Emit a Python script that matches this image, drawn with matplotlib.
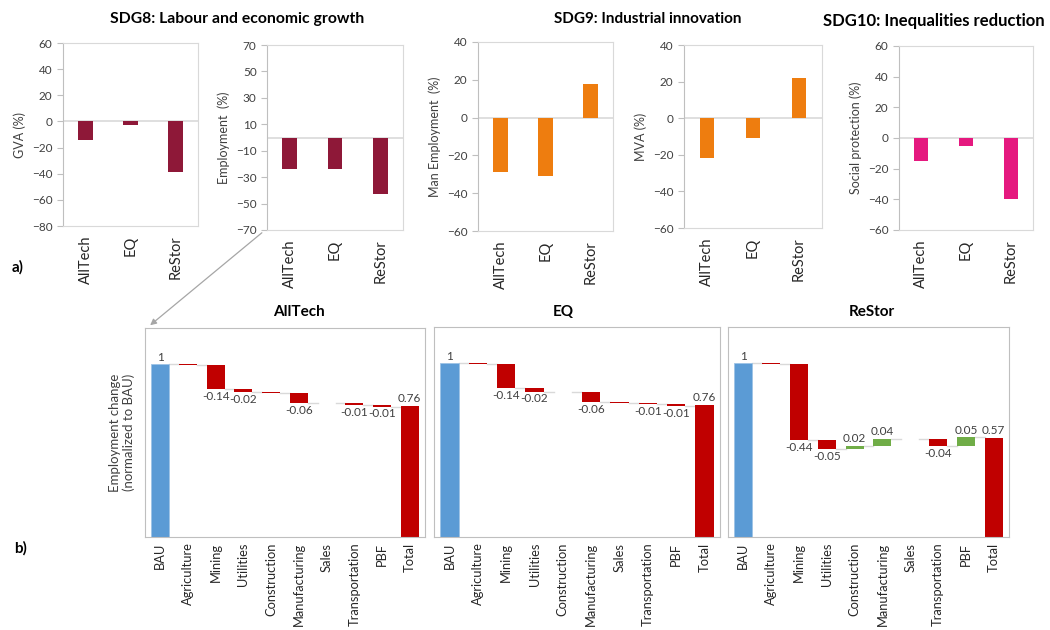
import numpy as np
import matplotlib.pyplot as plt
from matplotlib.patches import FancyArrowPatch

plt.rcParams['font.family'] = ['Lato', 'DejaVu Sans']

# SDG indicators per scenario (% change vs BAU)
scenarios = ['AllTech', 'EQ', 'ReStor']
gva = [-14, -2.5, -39]
employment = [-24, -24, -43]
man_employment = [-29, -31, 18]
mva = [-22, -11, 22]
social_protection = [-15, -5, -40]

# Employment waterfall by sector (normalized to BAU)
sectors = ['BAU', 'Agriculture', 'Mining', 'Utilities', 'Construction',
           'Manufacturing', 'Sales', 'Transportation', 'PBF', 'Total']
bau_level = 1.0
alltech_changes = [-0.002, -0.14, -0.02, -0.003, -0.06, -0.001, -0.01, -0.01]
eq_changes = [-0.002, -0.14, -0.02, -0.003, -0.06, -0.001, -0.01, -0.01]
restor_changes = [-0.003, -0.44, -0.05, 0.02, 0.04, -0.003, -0.04, 0.05]
alltech_total = 0.76
eq_total = 0.76
restor_total = 0.57

MAROON = '#8E1838'
ORANGE = '#EE7D0F'
PINK = '#E5197F'
BLUE = '#5B9BD5'
RED = '#C00000'
GREEN = '#70AD47'
FRAME = '#D9D9D9'
TXT = '#404040'

W, H = 1050, 630
fig = plt.figure(figsize=(W / 100, H / 100), dpi=100)


def px_axes(left, top, right, bottom):
    return fig.add_axes([left / W, 1 - bottom / H, (right - left) / W, (bottom - top) / H])


def fig_text(x, y, s, **kw):
    return fig.text(x / W, 1 - y / H, s, **kw)


def sdg_panel(rect, values, color, ylim, step, ylabel):
    ax = px_axes(*rect)
    x = np.arange(len(scenarios))
    ax.bar(x, values, width=0.32, color=color, zorder=2)
    ax.axhline(0, color=FRAME, lw=1.2, zorder=1)
    ax.set_xlim(-0.5, 2.5)
    ax.set_ylim(*ylim)
    ax.set_yticks(np.arange(ylim[0], ylim[1] + 1, step))
    ax.set_xticks(x)
    ax.set_xticklabels(scenarios, rotation=90, fontsize=10.5, color='#262626')
    ax.tick_params(axis='x', length=0, pad=7)
    ax.tick_params(axis='y', length=4, color='#BFBFBF', labelsize=8.5, labelcolor=TXT)
    for s in ax.spines.values():
        s.set_color(FRAME)
    ax.spines['left'].set_color('#BFBFBF')
    ax.set_ylabel(ylabel, fontsize=9, color=TXT)
    return ax


sdg_panel((63, 43, 198, 226), gva, MAROON, (-80, 60), 20, 'GVA (%)')
sdg_panel((267, 45, 403, 230), employment, MAROON, (-70, 70), 20, 'Employment  (%)')
sdg_panel((478, 42, 613, 231), man_employment, ORANGE, (-60, 40), 20, 'Man Employment  (%)')
sdg_panel((684, 45, 822, 228), mva, ORANGE, (-60, 40), 20, 'MVA (%)')
sdg_panel((899, 46, 1033, 230), social_protection, PINK, (-60, 60), 20, 'Social protection (%)')

fig_text(237, 19, 'SDG8: Labour and economic growth', ha='center', va='center',
         fontsize=11.3, fontweight='bold')
fig_text(648, 19, 'SDG9: Industrial innovation', ha='center', va='center',
         fontsize=11, fontweight='bold')
fig_text(1045, 21, 'SDG10: Inequalities reduction', ha='right', va='center',
         fontsize=12, fontweight='bold')


def waterfall(rect, changes, total, title, title_x, ylabel=None):
    ax = px_axes(*rect)
    bw = 0.65
    ax.bar(0, bau_level, width=bw, color=BLUE, edgecolor='#9DC3E6', lw=0.6, zorder=2)
    ax.text(0, bau_level + 0.01, f'{bau_level:g}', ha='center', va='bottom', fontsize=8.5, color=TXT)
    level = bau_level
    for i, v in enumerate(changes, start=1):
        ax.plot([i - 1 + bw / 2, i - bw / 2], [level, level], color=FRAME, lw=1, zorder=1)
        ax.bar(i, v, bottom=level, width=bw, color=RED if v < 0 else GREEN, lw=0, zorder=2)
        if abs(v) >= 0.01:
            if v < 0:
                ax.text(i, level + v - 0.01, f'{v:.2f}', ha='center', va='top', fontsize=8.5, color=TXT)
            else:
                ax.text(i, level + v + 0.01, f'{v:.2f}', ha='center', va='bottom', fontsize=8.5, color=TXT)
        level += v
    n = len(changes) + 1
    ax.plot([n - 1 + bw / 2, n - bw / 2], [level, level], color=FRAME, lw=1, zorder=1)
    ax.bar(n, total, width=bw, color=RED, lw=0, zorder=2)
    ax.text(n, total + 0.01, f'{total:.2f}', ha='center', va='bottom', fontsize=8.5, color=TXT)
    ax.set_xlim(-0.55, n + 0.55)
    ax.set_ylim(0, 1.21)
    ax.set_yticks([])
    ax.set_xticks(np.arange(len(sectors)))
    ax.set_xticklabels(sectors, rotation=90, fontsize=9.3, color='#262626')
    ax.tick_params(axis='x', length=0, pad=4)
    for s in ax.spines.values():
        s.set_color('#BFBFBF')
    fig_text(title_x, 312, title, ha='center', va='center', fontsize=11, fontweight='bold')
    if ylabel:
        ax.set_ylabel(ylabel, fontsize=9.5, color=TXT, labelpad=7)
    return ax


waterfall((145, 328, 425, 537), alltech_changes, alltech_total, 'AllTech', 299,
          'Employment change\n(normalized to BAU)')
waterfall((434, 327, 720, 537), eq_changes, eq_total, 'EQ', 563)
waterfall((728, 327, 1009, 537), restor_changes, restor_total, 'ReStor', 872)

# pointer from the employment panel down to the sector breakdown
arrow = FancyArrowPatch((264 / W, 1 - 231 / H), (148 / W, 1 - 327 / H),
                        transform=fig.transFigure, arrowstyle='-|>', mutation_scale=9,
                        color='#A6A6A6', lw=0.9)
fig.add_artist(arrow)

fig_text(12, 267, 'a)', fontsize=11, fontweight='bold', va='center')
fig_text(14, 548, 'b)', fontsize=11, fontweight='bold', va='center')

fig.savefig('out.png', dpi=100)
